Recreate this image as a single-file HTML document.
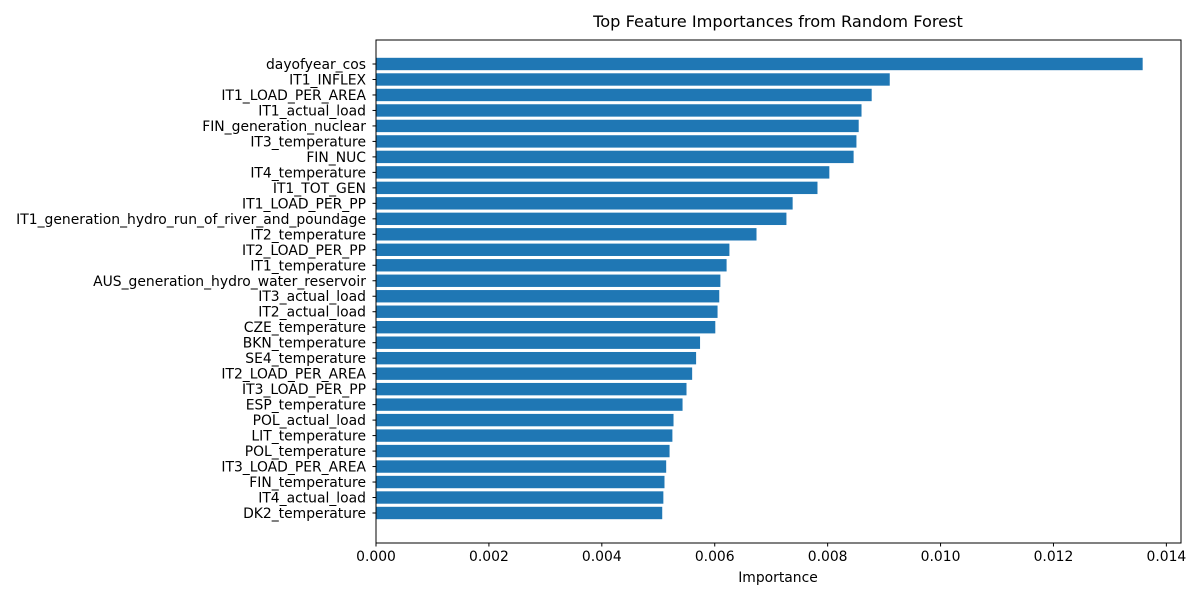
<!DOCTYPE html>
<html><head><meta charset="utf-8"><style>
body{margin:0;background:#fff;}
svg text{font-family:"DejaVu Sans","Liberation Sans",sans-serif;fill:#000;}
</style></head><body>
<svg id="chart" width="1200" height="600" xmlns="http://www.w3.org/2000/svg">
<text x="778" y="27" font-size="16.2" text-anchor="middle">Top Feature Importances from Random Forest</text>
<g id="bars"></g><g id="yticks"></g><g id="xticks"></g>
<rect x="376" y="40" width="805" height="503" fill="none" stroke="#000" stroke-width="1"/>
<text x="778" y="582" font-size="13.9" text-anchor="middle">Importance</text>
</svg>
<script>
const features=["dayofyear_cos","IT1_INFLEX","IT1_LOAD_PER_AREA","IT1_actual_load","FIN_generation_nuclear","IT3_temperature","FIN_NUC","IT4_temperature","IT1_TOT_GEN","IT1_LOAD_PER_PP","IT1_generation_hydro_run_of_river_and_poundage","IT2_temperature","IT2_LOAD_PER_PP","IT1_temperature","AUS_generation_hydro_water_reservoir","IT3_actual_load","IT2_actual_load","CZE_temperature","BKN_temperature","SE4_temperature","IT2_LOAD_PER_AREA","IT3_LOAD_PER_PP","ESP_temperature","POL_actual_load","LIT_temperature","POL_temperature","IT3_LOAD_PER_AREA","FIN_temperature","IT4_actual_load","DK2_temperature"];
const importances=[0.01358,0.00910,0.00878,0.00860,0.00855,0.00851,0.00846,0.00803,0.00782,0.00738,0.00727,0.00674,0.00626,0.00621,0.00610,0.00608,0.00605,0.00601,0.00574,0.00567,0.00560,0.00550,0.00543,0.00527,0.00525,0.00520,0.00514,0.00511,0.00509,0.00507];
const xTicks=[0,0.002,0.004,0.006,0.008,0.010,0.012,0.014];
const xTickLabels=["0.000","0.002","0.004","0.006","0.008","0.010","0.012","0.014"];
const NS="http://www.w3.org/2000/svg";
const X0=376,X1=1181,xmax=Math.max(...importances)*1.05;
const xs=v=>X0+v/xmax*(X1-X0);
const Y1=543,n=features.length;
const unit=(513-64)/(n-1);
const yc=i=>64+i*unit;
const bars=document.getElementById('bars'),yt=document.getElementById('yticks'),xt=document.getElementById('xticks');
features.forEach((f,i)=>{
 const r=document.createElementNS(NS,'rect');
 
 
 r.setAttribute('x',X0);r.setAttribute('y',yc(i)-0.4*unit);
 r.setAttribute('width',xs(importances[i])-X0);r.setAttribute('height',0.8*unit);
 r.setAttribute('fill','#1f77b4');bars.appendChild(r);
 const l=document.createElementNS(NS,'line');
 
 
 l.setAttribute('x1',X0-3.5);l.setAttribute('x2',X0);l.setAttribute('y1',yc(i));l.setAttribute('y2',yc(i));l.setAttribute('stroke','#000');yt.appendChild(l);
 const t=document.createElementNS(NS,'text');
 
 
 t.setAttribute('x',X0-10);t.setAttribute('y',yc(i)+5);t.setAttribute('font-size','13.9');t.setAttribute('text-anchor','end');t.textContent=f;yt.appendChild(t);
});
xTicks.forEach((v,i)=>{
 const l=document.createElementNS(NS,'line');
 
 
 l.setAttribute('x1',xs(v));l.setAttribute('x2',xs(v));l.setAttribute('y1',Y1);l.setAttribute('y2',Y1+3.5);l.setAttribute('stroke','#000');xt.appendChild(l);
 const t=document.createElementNS(NS,'text');
 
 
 t.setAttribute('x',xs(v));t.setAttribute('y',Y1+18);t.setAttribute('font-size','13.9');t.setAttribute('text-anchor','middle');t.textContent=xTickLabels[i];xt.appendChild(t);
});
</script>
</body></html>
